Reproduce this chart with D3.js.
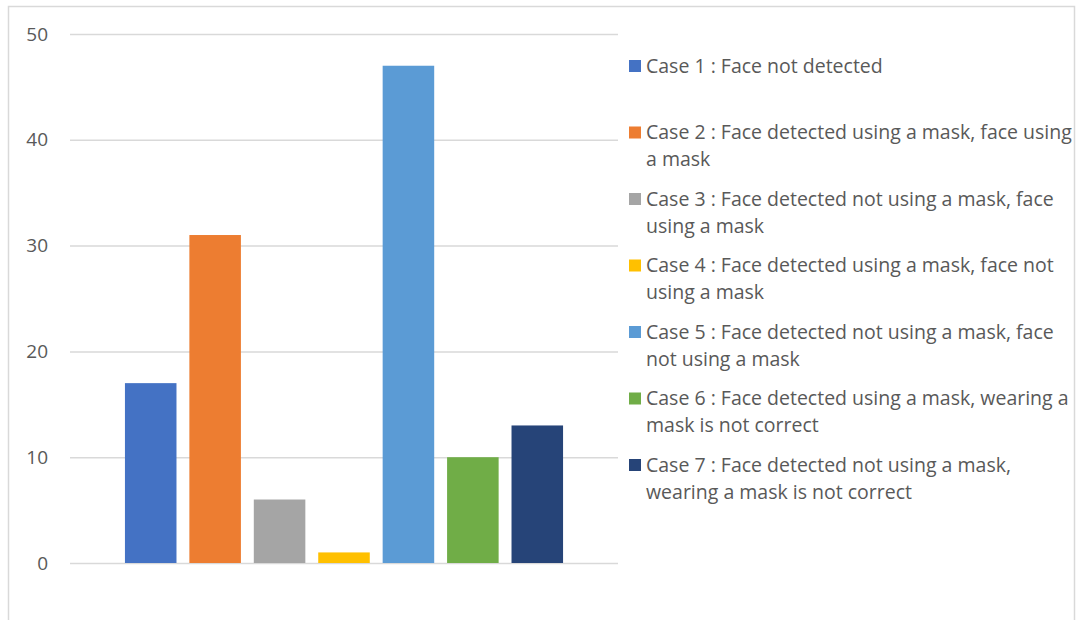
<!DOCTYPE html>
<html>
<head>
<meta charset="utf-8">
<script src="https://cdn.jsdelivr.net/npm/d3@7"></script>
<style>
  html, body { margin: 0; padding: 0; background: #fff; }
  svg { display: block; }
</style>
</head>
<body>
<svg id="chart" width="1078" height="620"></svg>
<script>
const categories = ["Case 1", "Case 2", "Case 3", "Case 4", "Case 5", "Case 6", "Case 7"];
const values = [17, 31, 6, 1, 47, 10, 13];
const legendLabels = [
  ["Case 1 : Face not detected"],
  ["Case 2 : Face detected using a mask, face using", "a mask"],
  ["Case 3 : Face detected not using a mask, face", "using a mask"],
  ["Case 4 : Face detected using a mask, face not", "using a mask"],
  ["Case 5 : Face detected not using a mask, face", "not using a mask"],
  ["Case 6 : Face detected using a mask, wearing a", "mask is not correct"],
  ["Case 7 : Face detected not using a mask,", "wearing a mask is not correct"]
];
const colors = ["#4472C4", "#ED7D31", "#A5A5A5", "#FFC000", "#5B9BD5", "#70AD47", "#264478"];
const yTicks = [0, 10, 20, 30, 40, 50];

const svg = d3.select("#chart");
const font = "'Open Sans', 'Noto Sans', sans-serif";
const textColor = "#595959";

// frame
svg.append("rect").attr("x", 8.5).attr("y", 6.5).attr("width", 1066).attr("height", 630)
  .attr("fill", "#fff").attr("stroke", "#d9d9d9").attr("stroke-width", 1.5);

const plot = { left: 70, right: 618, top: 34, bottom: 563 };

const y = d3.scaleLinear().domain([0, 50]).range([plot.bottom, plot.top]);
const x = d3.scaleBand().domain(categories).range([118.5, 569.5]).paddingInner(0.2).paddingOuter(0.1);

// gridlines
const yAxis = d3.axisLeft(y).tickValues(yTicks).tickSize(-(plot.right - plot.left)).tickPadding(22).tickFormat(d3.format("d"));
const gy = svg.append("g").attr("transform", `translate(${plot.left},0)`).call(yAxis);
gy.select(".domain").remove();
gy.selectAll(".tick line").attr("stroke", "#d9d9d9").attr("stroke-width", 1.5);
gy.selectAll(".tick text").attr("fill", textColor).style("font-family", font).style("font-size", "19px");

// bars
svg.append("g").selectAll("rect").data(values).join("rect")
  .attr("x", (d, i) => x(categories[i]))
  .attr("width", x.bandwidth())
  .attr("y", d => y(d))
  .attr("height", d => y(0) - y(d))
  .attr("fill", (d, i) => colors[i]);

// legend
const lg = svg.append("g");
const lineH = 27;
const entryY = i => 66 + 66.5 * i;
legendLabels.forEach((lines, i) => {
  const cy = entryY(i);
  lg.append("rect").attr("x", 629).attr("y", cy - 6).attr("width", 12).attr("height", 12).attr("fill", colors[i]);
  const t = lg.append("text")
    .attr("fill", textColor).style("font-family", font).style("font-size", "19.5px");
  lines.forEach((ln, j) => {
    t.append("tspan").attr("x", 646).attr("y", cy + j * lineH).attr("dy", "0.35em").text(ln);
  });
});
</script>
</body>
</html>
